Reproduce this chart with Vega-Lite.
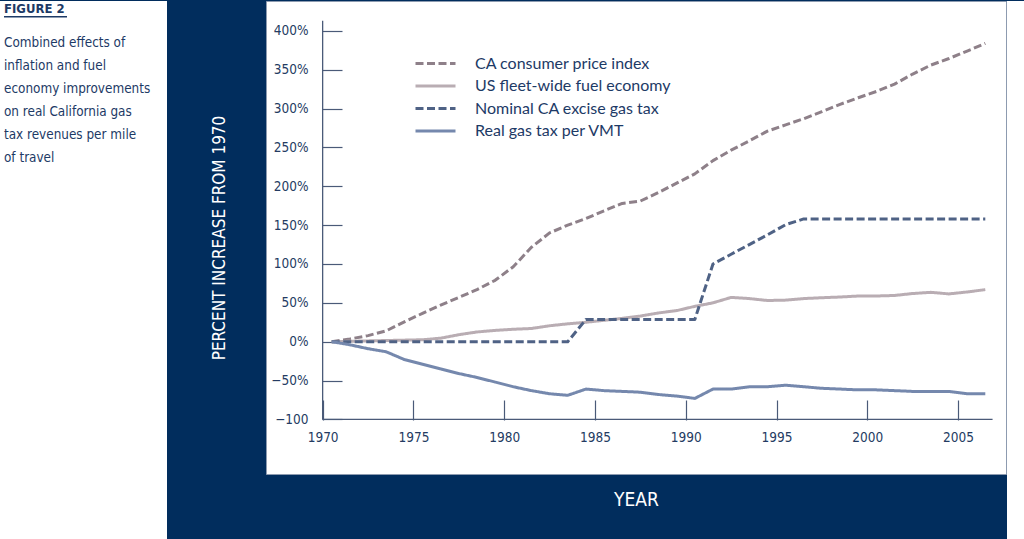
{
  "$schema": "https://vega.github.io/schema/vega-lite/v6.json",
  "background": "#012d5d",
  "padding": 0,
  "bounds": "flush",
  "spacing": 99,
  "config": {"view": {"stroke": null}},
  "hconcat": [
    {
      "width": 167,
      "height": 539,
      "view": {"fill": "#ffffff", "stroke": null},
      "data": {"values": [
        {"line": 1, "text": "Combined effects of"},
        {"line": 2, "text": "inflation and fuel"},
        {"line": 3, "text": "economy improvements"},
        {"line": 4, "text": "on real California gas"},
        {"line": 5, "text": "tax revenues per mile"},
        {"line": 6, "text": "of travel"}
      ]},
      "layer": [
        {
          "mark": {"type": "text", "align": "left", "baseline": "middle", "font": "Liberation Sans Narrow, DejaVu Sans Condensed, sans-serif", "fontSize": 13.4, "fontWeight": "normal", "color": "#1d3a66"},
          "encoding": {
            "x": {"datum": 0, "type": "quantitative", "scale": {"domain": [-4, 163], "nice": false, "zero": false}, "axis": null},
            "y": {"field": "line", "type": "quantitative", "scale": {"domain": [-0.834, 22.7], "reverse": true, "nice": false, "zero": false}, "axis": null},
            "text": {"field": "text"}
          }
        },
        {
          "data": {"values": [{"text": "FIGURE 2"}]},
          "mark": {"type": "text", "align": "left", "baseline": "middle", "font": "DejaVu Sans Condensed, sans-serif", "fontSize": 13, "fontWeight": "bold", "color": "#1d3a66"},
          "encoding": {
            "x": {"datum": 0, "type": "quantitative"},
            "y": {"datum": -0.5, "type": "quantitative"},
            "text": {"field": "text"}
          }
        },
        {
          "data": {"values": [{"text": "FIGURE 2"}]},
          "mark": {"type": "rule", "color": "#1d3a66", "strokeWidth": 1.5},
          "encoding": {
            "x": {"datum": 0, "type": "quantitative"},
            "x2": {"datum": 63},
            "y": {"datum": -0.15, "type": "quantitative"}
          }
        }
      ]
    },
    {
      "bounds": "flush",
      "spacing": 1,
      "hconcat": [
        {
          "width": 740,
          "height": 473,
          "view": {"fill": "#ffffff", "stroke": "#8d9bb0", "strokeWidth": 1},
          "layer": [
            {
              "data": {"values": [
                {"year": 1970, "series": "CA consumer price index", "value": 0},
                {"year": 1971, "series": "CA consumer price index", "value": 3.5},
                {"year": 1972, "series": "CA consumer price index", "value": 7.8},
                {"year": 1973, "series": "CA consumer price index", "value": 14},
                {"year": 1974, "series": "CA consumer price index", "value": 25.5},
                {"year": 1975, "series": "CA consumer price index", "value": 36.5},
                {"year": 1976, "series": "CA consumer price index", "value": 47},
                {"year": 1977, "series": "CA consumer price index", "value": 57},
                {"year": 1978, "series": "CA consumer price index", "value": 67},
                {"year": 1979, "series": "CA consumer price index", "value": 79},
                {"year": 1980, "series": "CA consumer price index", "value": 96.5},
                {"year": 1981, "series": "CA consumer price index", "value": 121.5},
                {"year": 1982, "series": "CA consumer price index", "value": 140},
                {"year": 1983, "series": "CA consumer price index", "value": 150},
                {"year": 1984, "series": "CA consumer price index", "value": 158.5},
                {"year": 1985, "series": "CA consumer price index", "value": 168.5},
                {"year": 1986, "series": "CA consumer price index", "value": 178},
                {"year": 1987, "series": "CA consumer price index", "value": 181},
                {"year": 1988, "series": "CA consumer price index", "value": 192},
                {"year": 1989, "series": "CA consumer price index", "value": 204},
                {"year": 1990, "series": "CA consumer price index", "value": 216},
                {"year": 1991, "series": "CA consumer price index", "value": 233},
                {"year": 1992, "series": "CA consumer price index", "value": 246.5},
                {"year": 1993, "series": "CA consumer price index", "value": 258.5},
                {"year": 1994, "series": "CA consumer price index", "value": 271},
                {"year": 1995, "series": "CA consumer price index", "value": 279},
                {"year": 1996, "series": "CA consumer price index", "value": 287},
                {"year": 1997, "series": "CA consumer price index", "value": 296},
                {"year": 1998, "series": "CA consumer price index", "value": 305.5},
                {"year": 1999, "series": "CA consumer price index", "value": 314},
                {"year": 2000, "series": "CA consumer price index", "value": 322},
                {"year": 2001, "series": "CA consumer price index", "value": 331.5},
                {"year": 2002, "series": "CA consumer price index", "value": 344.5},
                {"year": 2003, "series": "CA consumer price index", "value": 356},
                {"year": 2004, "series": "CA consumer price index", "value": 364.5},
                {"year": 2005, "series": "CA consumer price index", "value": 374},
                {"year": 2006, "series": "CA consumer price index", "value": 384},
                {"year": 1970, "series": "US fleet-wide fuel economy", "value": 0},
                {"year": 1971, "series": "US fleet-wide fuel economy", "value": 0.5},
                {"year": 1972, "series": "US fleet-wide fuel economy", "value": 1},
                {"year": 1973, "series": "US fleet-wide fuel economy", "value": 1.5},
                {"year": 1974, "series": "US fleet-wide fuel economy", "value": 2},
                {"year": 1975, "series": "US fleet-wide fuel economy", "value": 2.5},
                {"year": 1976, "series": "US fleet-wide fuel economy", "value": 4.5},
                {"year": 1977, "series": "US fleet-wide fuel economy", "value": 9},
                {"year": 1978, "series": "US fleet-wide fuel economy", "value": 12.5},
                {"year": 1979, "series": "US fleet-wide fuel economy", "value": 14.5},
                {"year": 1980, "series": "US fleet-wide fuel economy", "value": 16},
                {"year": 1981, "series": "US fleet-wide fuel economy", "value": 17},
                {"year": 1982, "series": "US fleet-wide fuel economy", "value": 20.5},
                {"year": 1983, "series": "US fleet-wide fuel economy", "value": 23},
                {"year": 1984, "series": "US fleet-wide fuel economy", "value": 25},
                {"year": 1985, "series": "US fleet-wide fuel economy", "value": 27.5},
                {"year": 1986, "series": "US fleet-wide fuel economy", "value": 30},
                {"year": 1987, "series": "US fleet-wide fuel economy", "value": 33},
                {"year": 1988, "series": "US fleet-wide fuel economy", "value": 37},
                {"year": 1989, "series": "US fleet-wide fuel economy", "value": 40},
                {"year": 1990, "series": "US fleet-wide fuel economy", "value": 45.5},
                {"year": 1991, "series": "US fleet-wide fuel economy", "value": 50},
                {"year": 1992, "series": "US fleet-wide fuel economy", "value": 57},
                {"year": 1993, "series": "US fleet-wide fuel economy", "value": 55.5},
                {"year": 1994, "series": "US fleet-wide fuel economy", "value": 53},
                {"year": 1995, "series": "US fleet-wide fuel economy", "value": 53.5},
                {"year": 1996, "series": "US fleet-wide fuel economy", "value": 55.5},
                {"year": 1997, "series": "US fleet-wide fuel economy", "value": 56.6},
                {"year": 1998, "series": "US fleet-wide fuel economy", "value": 57.5},
                {"year": 1999, "series": "US fleet-wide fuel economy", "value": 58.8},
                {"year": 2000, "series": "US fleet-wide fuel economy", "value": 58.8},
                {"year": 2001, "series": "US fleet-wide fuel economy", "value": 59.5},
                {"year": 2002, "series": "US fleet-wide fuel economy", "value": 62},
                {"year": 2003, "series": "US fleet-wide fuel economy", "value": 63.5},
                {"year": 2004, "series": "US fleet-wide fuel economy", "value": 61.5},
                {"year": 2005, "series": "US fleet-wide fuel economy", "value": 64},
                {"year": 2006, "series": "US fleet-wide fuel economy", "value": 67},
                {"year": 1970, "series": "Nominal CA excise gas tax", "value": 0},
                {"year": 1971, "series": "Nominal CA excise gas tax", "value": 0},
                {"year": 1972, "series": "Nominal CA excise gas tax", "value": 0},
                {"year": 1973, "series": "Nominal CA excise gas tax", "value": 0},
                {"year": 1974, "series": "Nominal CA excise gas tax", "value": 0},
                {"year": 1975, "series": "Nominal CA excise gas tax", "value": 0},
                {"year": 1976, "series": "Nominal CA excise gas tax", "value": 0},
                {"year": 1977, "series": "Nominal CA excise gas tax", "value": 0},
                {"year": 1978, "series": "Nominal CA excise gas tax", "value": 0},
                {"year": 1979, "series": "Nominal CA excise gas tax", "value": 0},
                {"year": 1980, "series": "Nominal CA excise gas tax", "value": 0},
                {"year": 1981, "series": "Nominal CA excise gas tax", "value": 0},
                {"year": 1982, "series": "Nominal CA excise gas tax", "value": 0},
                {"year": 1983, "series": "Nominal CA excise gas tax", "value": 0},
                {"year": 1984, "series": "Nominal CA excise gas tax", "value": 28.6},
                {"year": 1985, "series": "Nominal CA excise gas tax", "value": 28.6},
                {"year": 1986, "series": "Nominal CA excise gas tax", "value": 28.6},
                {"year": 1987, "series": "Nominal CA excise gas tax", "value": 28.6},
                {"year": 1988, "series": "Nominal CA excise gas tax", "value": 28.6},
                {"year": 1989, "series": "Nominal CA excise gas tax", "value": 28.6},
                {"year": 1990, "series": "Nominal CA excise gas tax", "value": 28.6},
                {"year": 1991, "series": "Nominal CA excise gas tax", "value": 100},
                {"year": 1992, "series": "Nominal CA excise gas tax", "value": 112.5},
                {"year": 1993, "series": "Nominal CA excise gas tax", "value": 125},
                {"year": 1994, "series": "Nominal CA excise gas tax", "value": 137.5},
                {"year": 1995, "series": "Nominal CA excise gas tax", "value": 150.6},
                {"year": 1996, "series": "Nominal CA excise gas tax", "value": 158},
                {"year": 1997, "series": "Nominal CA excise gas tax", "value": 158},
                {"year": 1998, "series": "Nominal CA excise gas tax", "value": 158},
                {"year": 1999, "series": "Nominal CA excise gas tax", "value": 158},
                {"year": 2000, "series": "Nominal CA excise gas tax", "value": 158},
                {"year": 2001, "series": "Nominal CA excise gas tax", "value": 158},
                {"year": 2002, "series": "Nominal CA excise gas tax", "value": 158},
                {"year": 2003, "series": "Nominal CA excise gas tax", "value": 158},
                {"year": 2004, "series": "Nominal CA excise gas tax", "value": 158},
                {"year": 2005, "series": "Nominal CA excise gas tax", "value": 158},
                {"year": 2006, "series": "Nominal CA excise gas tax", "value": 158},
                {"year": 1970, "series": "Real gas tax per VMT", "value": 0},
                {"year": 1971, "series": "Real gas tax per VMT", "value": -4},
                {"year": 1972, "series": "Real gas tax per VMT", "value": -9},
                {"year": 1973, "series": "Real gas tax per VMT", "value": -13},
                {"year": 1974, "series": "Real gas tax per VMT", "value": -23},
                {"year": 1975, "series": "Real gas tax per VMT", "value": -29},
                {"year": 1976, "series": "Real gas tax per VMT", "value": -35},
                {"year": 1977, "series": "Real gas tax per VMT", "value": -41},
                {"year": 1978, "series": "Real gas tax per VMT", "value": -46},
                {"year": 1979, "series": "Real gas tax per VMT", "value": -52},
                {"year": 1980, "series": "Real gas tax per VMT", "value": -58},
                {"year": 1981, "series": "Real gas tax per VMT", "value": -63},
                {"year": 1982, "series": "Real gas tax per VMT", "value": -67},
                {"year": 1983, "series": "Real gas tax per VMT", "value": -69},
                {"year": 1984, "series": "Real gas tax per VMT", "value": -61},
                {"year": 1985, "series": "Real gas tax per VMT", "value": -63},
                {"year": 1986, "series": "Real gas tax per VMT", "value": -64},
                {"year": 1987, "series": "Real gas tax per VMT", "value": -65},
                {"year": 1988, "series": "Real gas tax per VMT", "value": -68},
                {"year": 1989, "series": "Real gas tax per VMT", "value": -70},
                {"year": 1990, "series": "Real gas tax per VMT", "value": -73},
                {"year": 1991, "series": "Real gas tax per VMT", "value": -61},
                {"year": 1992, "series": "Real gas tax per VMT", "value": -61},
                {"year": 1993, "series": "Real gas tax per VMT", "value": -58},
                {"year": 1994, "series": "Real gas tax per VMT", "value": -58},
                {"year": 1995, "series": "Real gas tax per VMT", "value": -56},
                {"year": 1996, "series": "Real gas tax per VMT", "value": -58},
                {"year": 1997, "series": "Real gas tax per VMT", "value": -60},
                {"year": 1998, "series": "Real gas tax per VMT", "value": -61},
                {"year": 1999, "series": "Real gas tax per VMT", "value": -62},
                {"year": 2000, "series": "Real gas tax per VMT", "value": -62},
                {"year": 2001, "series": "Real gas tax per VMT", "value": -63},
                {"year": 2002, "series": "Real gas tax per VMT", "value": -64},
                {"year": 2003, "series": "Real gas tax per VMT", "value": -64},
                {"year": 2004, "series": "Real gas tax per VMT", "value": -64},
                {"year": 2005, "series": "Real gas tax per VMT", "value": -67},
                {"year": 2006, "series": "Real gas tax per VMT", "value": -67}
              ]},
              "mark": {"type": "line", "strokeWidth": 3, "strokeCap": "butt", "strokeJoin": "round"},
              "encoding": {
                "x": {
                  "field": "year", "type": "quantitative",
                  "scale": {"domain": [1966.38, 2007.14], "nice": false, "zero": false},
                  "axis": {
                    "orient": "bottom", "offset": -54, "domain": false, "grid": false,
                    "values": [1969.5, 1974.5, 1979.5, 1984.5, 1989.5, 1994.5, 1999.5, 2004.5],
                    "labelExpr": "format(datum.value + 0.5, 'd')",
                    "tickSize": -20, "tickColor": "#4a5a78", "tickWidth": 1.2,
                    "labelPadding": 30, "labelFont": "Liberation Sans Narrow, DejaVu Sans Condensed, sans-serif",
                    "labelFontSize": 13.5, "labelColor": "#243b62", "labelOverlap": false, "labelFlush": false, "labelBound": false,
                    "title": "YEAR", "titleColor": "#ffffff", "titleFont": "Liberation Sans Narrow, DejaVu Sans Condensed, sans-serif",
                    "titleFontSize": 19, "titleFontWeight": "normal", "titleY": 79, "titleBaseline": "middle"
                  }
                },
                "y": {
                  "field": "value", "type": "quantitative",
                  "scale": {"domain": [-170.3, 438.5], "nice": false, "zero": false},
                  "axis": {
                    "orient": "left", "offset": -56, "domain": false, "grid": false,
                    "values": [-100, -50, 0, 50, 100, 150, 200, 250, 300, 350, 400],
                    "labelExpr": "datum.value == -100 ? '−100' : (datum.value < 0 ? '−' + format(-datum.value, 'd') + '%' : format(datum.value, 'd') + '%')",
                    "tickSize": -20, "tickColor": "#4a5a78", "tickWidth": 1.2,
                    "labelPadding": 34, "labelFont": "Liberation Sans Narrow, DejaVu Sans Condensed, sans-serif",
                    "labelFontSize": 13.5, "labelColor": "#243b62", "labelOverlap": false, "labelFlush": false, "labelBound": false,
                    "title": "PERCENT INCREASE FROM 1970", "titleColor": "#ffffff",
                    "titleFont": "Liberation Sans Narrow, DejaVu Sans Condensed, sans-serif",
                    "titleFontSize": 17, "titleFontWeight": "normal", "titleX": -103, "titleBaseline": "middle", "titleAngle": -90
                  }
                },
                "color": {
                  "field": "series", "type": "nominal",
                  "scale": {
                    "domain": ["CA consumer price index", "US fleet-wide fuel economy", "Nominal CA excise gas tax", "Real gas tax per VMT"],
                    "range": ["#8e8089", "#b9adb3", "#4f6285", "#7588ad"]
                  },
                  "legend": {
                    "orient": "none", "legendX": 424, "legendY": 51, "title": null,
                    "symbolType": "M-2,0H2", "symbolSize": 400, "symbolStrokeWidth": 3,
                    "labelFont": "Lato, Open Sans, sans-serif", "labelFontSize": 16, "labelColor": "#1d3a66",
                    "rowPadding": 2.5, "labelOffset": 28, "labelLimit": 400
                  }
                },
                "strokeDash": {
                  "field": "series", "type": "nominal",
                  "scale": {
                    "domain": ["CA consumer price index", "US fleet-wide fuel economy", "Nominal CA excise gas tax", "Real gas tax per VMT"],
                    "range": [[8, 3.5], [1, 0], [8, 3.5], [1, 0]]
                  },
                  "legend": {
                    "orient": "none", "legendX": 424, "legendY": 51, "title": null,
                    "symbolType": "M-2,0H2", "symbolSize": 400, "symbolStrokeWidth": 3,
                    "labelFont": "Lato, Open Sans, sans-serif", "labelFontSize": 16, "labelColor": "#1d3a66",
                    "rowPadding": 2.5, "labelOffset": 28, "labelLimit": 400
                  }
                }
              }
            },
            {
              "data": {"values": [{"axis": "y"}]},
              "mark": {"type": "rule", "color": "#4a5a78", "strokeWidth": 1.3},
              "encoding": {
                "x": {"datum": 1969.5, "type": "quantitative", "scale": {"domain": [1966.38, 2007.14], "nice": false, "zero": false}},
                "y": {"datum": -100, "type": "quantitative", "scale": {"domain": [-170.3, 438.5], "nice": false, "zero": false}},
                "y2": {"datum": 413}
              }
            },
            {
              "data": {"values": [{"axis": "x"}]},
              "mark": {"type": "rule", "color": "#4a5a78", "strokeWidth": 1.3},
              "encoding": {
                "x": {"datum": 1969.5, "type": "quantitative", "scale": {"domain": [1966.38, 2007.14], "nice": false, "zero": false}},
                "x2": {"datum": 2006.4},
                "y": {"datum": -100, "type": "quantitative", "scale": {"domain": [-170.3, 438.5], "nice": false, "zero": false}}
              }
            }
          ]
        },
        {
          "width": 17,
          "height": 539,
          "view": {"fill": "#ffffff", "stroke": null},
          "data": {"values": []},
          "mark": "text",
          "encoding": {}
        }
      ]
    }
  ]
}
